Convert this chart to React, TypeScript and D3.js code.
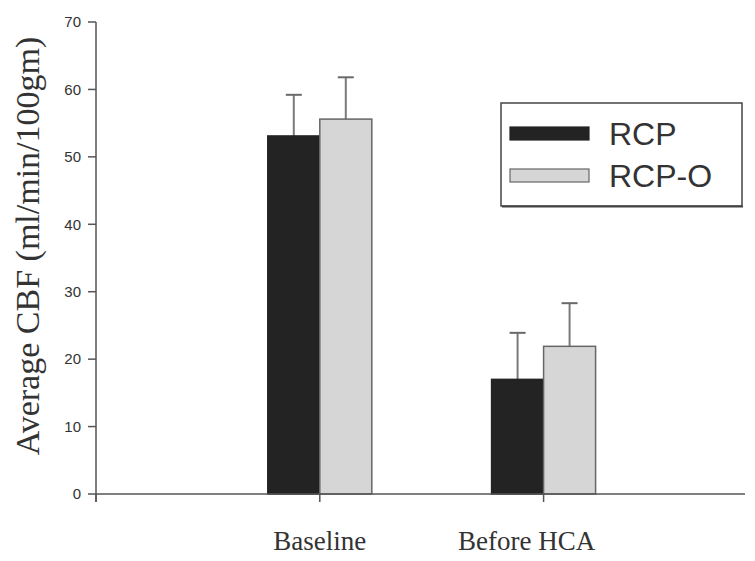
import * as d3 from 'd3';

const categories = ['Baseline', 'Before HCA'];
const seriesNames = ['RCP', 'RCP-O'];
const rcpValues = [53.1, 17.0];
const rcpErrors = [6.1, 6.9];
const rcpoValues = [55.6, 21.9];
const rcpoErrors = [6.2, 6.4];
const yTicks = [0, 10, 20, 30, 40, 50, 60, 70];

const W = 755;
const H = 561;
const left = 96;
const right = 745;
const top = 22;
const bottom = 494;

const fills = ['#232323', '#d6d6d6'];
const strokes = ['#232323', '#666'];

export default function App() {
  const y = d3.scaleLinear().domain([0, 70]).range([bottom, top]);
  // categories sit at 1 and 2 on a 0..2.9 axis, the first slot stays empty
  const x = d3.scaleLinear().domain([0, 2.9]).range([left, right]);
  const inner = d3.scaleBand().domain(seriesNames).range([-52, 52]).padding(0);

  const series = [
    { name: seriesNames[0], values: rcpValues, errors: rcpErrors },
    { name: seriesNames[1], values: rcpoValues, errors: rcpoErrors },
  ];

  const xTickPos = [0, 1, 2];

  return (
    <svg width={W} height={H} style={{ position: 'absolute', left: 0, top: 0, background: '#fff' }}>
      {/* bars */}
      {series.map((s, si) =>
        s.values.map((v, ci) => {
          const bx = x(ci + 1) + (inner(s.name) as number);
          const bw = inner.bandwidth();
          const cx = bx + bw / 2;
          return (
            <g key={`${si}-${ci}`}>
              <line x1={cx} x2={cx} y1={y(v)} y2={y(v + s.errors[ci])} stroke="#7a7a7a" strokeWidth={2} />
              <line x1={cx - 8} x2={cx + 8} y1={y(v + s.errors[ci])} y2={y(v + s.errors[ci])} stroke="#6a6a6a" strokeWidth={2} />
              <rect x={bx} y={y(v)} width={bw} height={y(0) - y(v)} fill={fills[si]} stroke={strokes[si]} strokeWidth={1.5} />
            </g>
          );
        })
      )}

      {/* y axis */}
      <line x1={left} x2={left} y1={top} y2={bottom + 8} stroke="#555" strokeWidth={1.5} />
      {yTicks.map((t) => (
        <g key={t}>
          <line x1={left - 8} x2={left} y1={y(t)} y2={y(t)} stroke="#555" strokeWidth={1.5} />
          <text x={left - 15} y={y(t)} dy="0.35em" textAnchor="end" fontFamily="Liberation Sans, Arial, sans-serif" fontSize={15} fill="#333">
            {t}
          </text>
        </g>
      ))}

      {/* x axis */}
      <line x1={left} x2={right} y1={bottom} y2={bottom} stroke="#555" strokeWidth={1.5} />
      {xTickPos.map((p) => (
        <line key={p} x1={x(p)} x2={x(p)} y1={bottom} y2={bottom + 8} stroke="#555" strokeWidth={1.5} />
      ))}
      {categories.map((c, i) => (
        <text key={c} x={x(i + 1) - (i === 1 ? 17 : 0)} y={550} textAnchor="middle" fontFamily="Liberation Serif, Times New Roman, serif" fontSize={27} fill="#333">
          {c}
        </text>
      ))}

      {/* y label */}
      <text
        transform="translate(39,246) rotate(-90)"
        textAnchor="middle"
        fontFamily="Liberation Serif, Times New Roman, serif"
        fontSize={34}
        fill="#333"
      >
        Average CBF (ml/min/100gm)
      </text>

      {/* legend */}
      <rect x={501} y={103} width={241} height={103} fill="#fff" stroke="#444" strokeWidth={1.5} />
      <line x1={502} x2={743} y1={206.5} y2={206.5} stroke="#444" strokeWidth={2} />
      {seriesNames.map((n, i) => (
        <g key={n}>
          <rect x={510} y={127 + i * 42} width={79} height={13} fill={fills[i]} stroke={strokes[i]} strokeWidth={1.2} />
          <text x={609} y={145 + i * 42} fontFamily="Liberation Sans, Arial, sans-serif" fontSize={32} fill="#333">
            {n}
          </text>
        </g>
      ))}
    </svg>
  );
}
